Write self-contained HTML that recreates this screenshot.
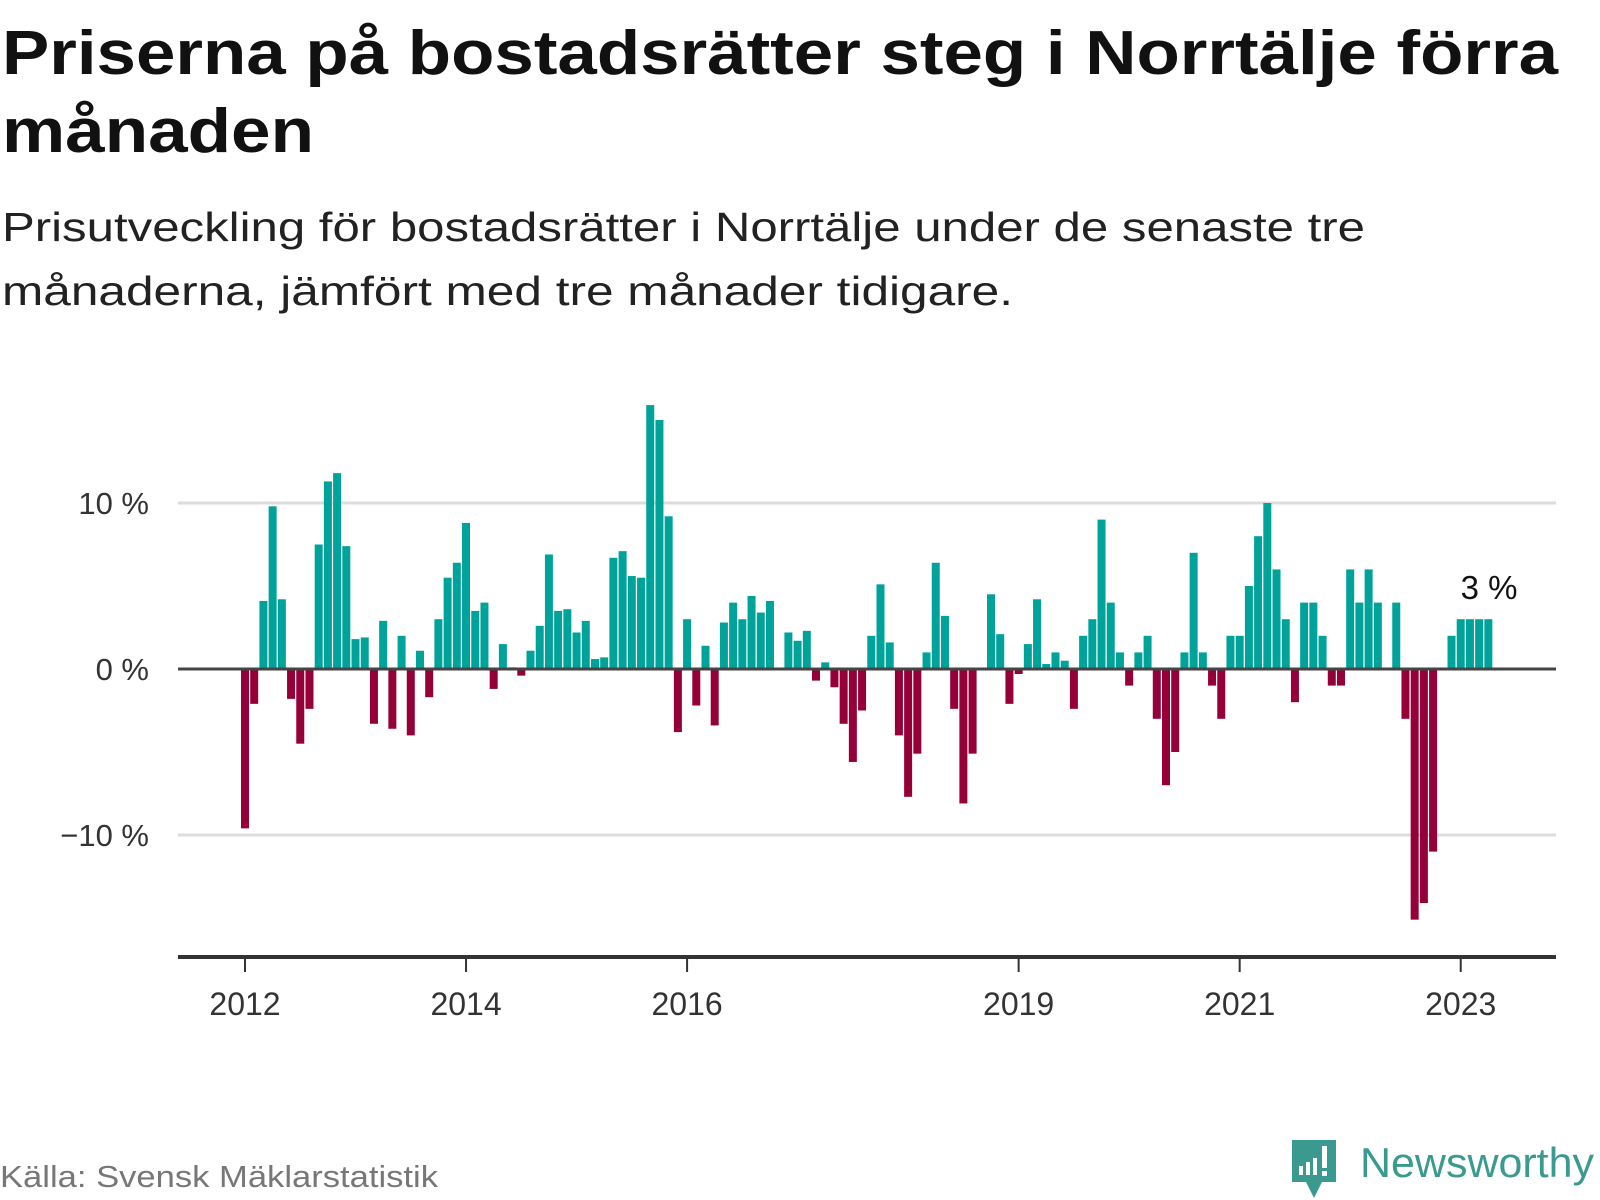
<!DOCTYPE html>
<html><head><meta charset="utf-8">
<style>
html,body{margin:0;padding:0;background:#fff;}
svg{display:block;font-family:"Liberation Sans",sans-serif;}
</style></head>
<body>
<svg id="chart" width="1600" height="1200" viewBox="0 0 1600 1200">
  <text x="2" y="74" font-size="62" font-weight="bold" fill="#111" textLength="1556" lengthAdjust="spacingAndGlyphs">Priserna på bostadsrätter steg i Norrtälje förra</text>
  <text x="2" y="152" font-size="62" font-weight="bold" fill="#111" textLength="312" lengthAdjust="spacingAndGlyphs">månaden</text>
  <text x="2" y="241" font-size="41" fill="#222" textLength="1363" lengthAdjust="spacingAndGlyphs">Prisutveckling för bostadsrätter i Norrtälje under de senaste tre</text>
  <text x="2" y="305" font-size="41" fill="#222" textLength="1011" lengthAdjust="spacingAndGlyphs">månaderna, jämfört med tre månader tidigare.</text>
  <g id="grid"></g>
  <g id="bars"></g>
  <g id="axes"></g>
  <text x="1489" y="599" font-size="33" fill="#111" text-anchor="middle">3 %</text>
  <text x="0" y="1187" font-size="31" fill="#777" textLength="438" lengthAdjust="spacingAndGlyphs">Källa: Svensk Mäklarstatistik</text>
  <g>
    <path d="M1292 1140 h44 v42 h-14 l-8 16 l-8 -16 h-14 z" fill="#3a9a90"/>
    <rect x="1299" y="1166" width="4" height="9" fill="#fff"/>
    <rect x="1306" y="1162" width="4" height="13" fill="#fff"/>
    <rect x="1313" y="1158" width="4" height="17" fill="#fff"/>
    <rect x="1322" y="1146" width="5" height="22" fill="#fff"/>
    <rect x="1322" y="1171" width="5" height="5" fill="#fff"/>
    <text x="1360" y="1177" font-size="42" fill="#3a9a90" textLength="234" lengthAdjust="spacingAndGlyphs">Newsworthy</text>
  </g>
</svg>
<script>
const values = [
 -9.6,-2.1,4.1,9.8,4.2,-1.8,-4.5,-2.4,7.5,11.3,11.8,7.4,
 1.8,1.9,-3.3,2.9,-3.6,2.0,-4.0,1.1,-1.7,3.0,5.5,6.4,
 8.8,3.5,4.0,-1.2,1.5,0.1,-0.4,1.1,2.6,6.9,3.5,3.6,
 2.2,2.9,0.6,0.7,6.7,7.1,5.6,5.5,15.9,15.0,9.2,-3.8,
 3.0,-2.2,1.4,-3.4,2.8,4.0,3.0,4.4,3.4,4.1,0,2.2,
 1.7,2.3,-0.7,0.4,-1.1,-3.3,-5.6,-2.5,2.0,5.1,1.6,-4.0,
 -7.7,-5.1,1.0,6.4,3.2,-2.4,-8.1,-5.1,0,4.5,2.1,-2.1,
 -0.3,1.5,4.2,0.3,1.0,0.5,-2.4,2.0,3.0,9.0,4.0,1.0,
 -1.0,1.0,2.0,-3.0,-7.0,-5.0,1.0,7.0,1.0,-1.0,-3.0,2.0,
 2.0,5.0,8.0,10.0,6.0,3.0,-2.0,4.0,4.0,2.0,-1.0,-1.0,
 6.0,4.0,6.0,4.0,0,4.0,-3.0,-15.1,-14.1,-11.0,0,2.0,
 3.0,3.0,3.0,3.0
];
const yTicks = [10, 0, -10];
const yTickLabels = ["10 %", "0 %", "\u221210 %"];
const xTickYears = [2012, 2014, 2016, 2019, 2021, 2023];
const startYear = 2012;

const NS = "http://www.w3.org/2000/svg";
const y0 = 669, pxPerPct = 16.6;
const x0 = 245, pxPerMonth = 9.21, barW = 8;
function yScale(v){ return y0 - v * pxPerPct; }
function xScale(i){ return x0 + i * pxPerMonth; }
function xYear(y){ return xScale((y - startYear) * 12); }
function mk(tag, attrs, parent){
  const e = document.createElementNS(NS, tag);
  for (const k in attrs) e.setAttribute(k, attrs[k]);
  parent.appendChild(e);
  return e;
}
const grid = document.getElementById('grid');
const bars = document.getElementById('bars');
const axes = document.getElementById('axes');

yTicks.forEach((t, k) => {
  if (t !== 0) {
    const l = mk('line', {x1:178, x2:1556, y1:yScale(t), y2:yScale(t), stroke:'#dddddd', 'stroke-width':3}, grid);
    
    
  }
  const tx = mk('text', {x:149, y:yScale(t)+11, 'font-size':31, fill:'#333', 'text-anchor':'end'}, axes);
  tx.textContent = yTickLabels[k];
  
  
});

values.forEach((v, i) => {
  if (v === 0) return;
  const top = Math.min(yScale(v), y0), h = Math.abs(yScale(v) - y0);
  const r = mk('rect', {x:xScale(i)-barW/2, y:top, width:barW, height:h, fill: v > 0 ? '#00a39a' : '#950039'}, bars);
  
  
});

const zl = mk('line', {x1:178, x2:1556, y1:y0, y2:y0, stroke:'#444', 'stroke-width':3}, axes);


const xl = mk('line', {x1:178, x2:1556, y1:957, y2:957, stroke:'#333', 'stroke-width':4}, axes);



xTickYears.forEach(yr => {
  const x = xYear(yr);
  const tk = mk('line', {x1:x, x2:x, y1:957, y2:972, stroke:'#333', 'stroke-width':2}, axes);
  
  
  const tl = mk('text', {x:x, y:1015, 'font-size':32, fill:'#333', 'text-anchor':'middle'}, axes);
  tl.textContent = String(yr);
  
  
});
</script>
</body></html>
